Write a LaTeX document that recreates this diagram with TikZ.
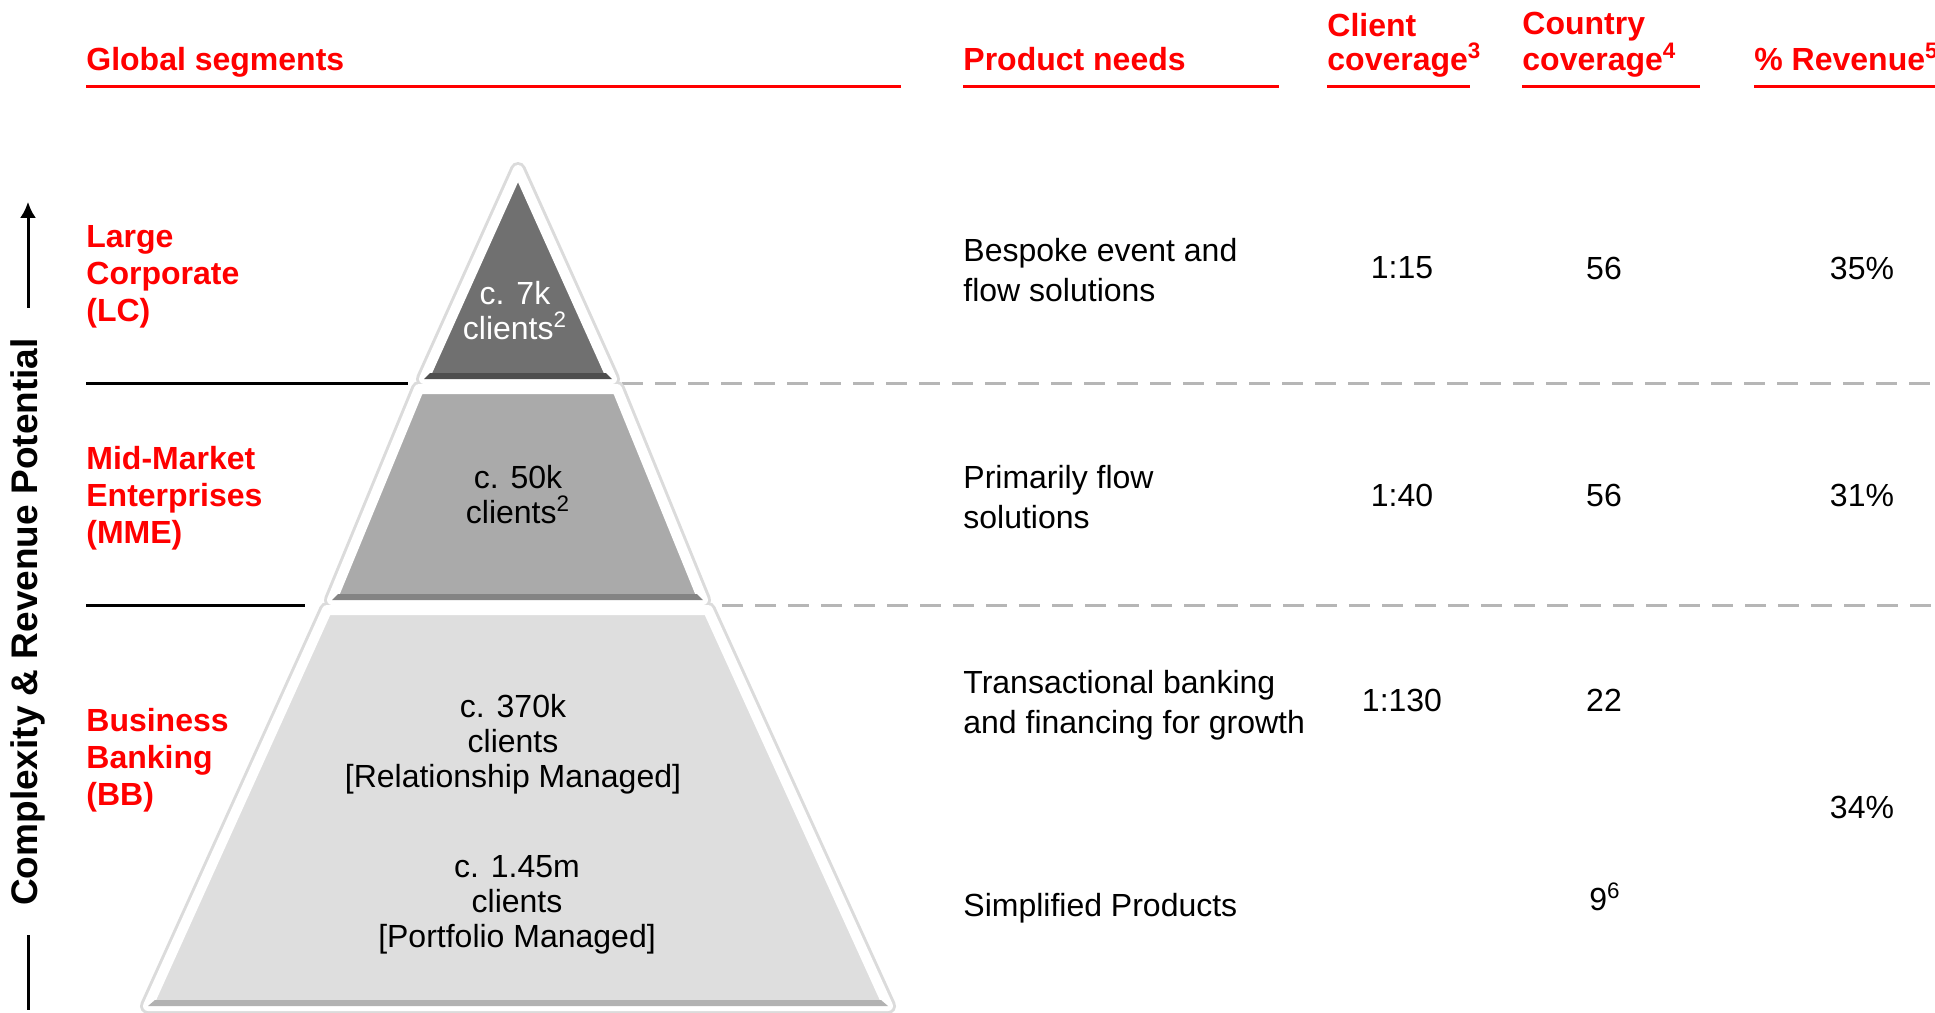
\documentclass[tikz,border=0pt]{standalone}
\usepackage{fontspec}
\setmainfont{Liberation Sans}
\usetikzlibrary{arrows.meta}
\definecolor{tierA}{RGB}{112,112,112}
\definecolor{tierAdark}{RGB}{78,78,78}
\definecolor{tierB}{RGB}{170,170,170}
\definecolor{tierBdark}{RGB}{132,132,132}
\definecolor{tierC}{RGB}{222,222,222}
\definecolor{tierCdark}{RGB}{178,178,178}
\definecolor{dashgray}{RGB}{182,182,182}
\tikzset{
  hdr/.style={text=red, font=\bfseries\fontsize{16}{17.25}\selectfont, inner sep=0pt, align=left, anchor=south west},
  hline/.style={red, line width=1.5pt},
  seg/.style={text=red, font=\bfseries\fontsize{16}{18.5}\selectfont, inner sep=0pt, align=left, anchor=west},
  need/.style={font=\fontsize{16}{20}\selectfont, inner sep=0pt, align=left, anchor=west},
  cell/.style={font=\fontsize{16}{18}\selectfont, inner sep=0pt},
  tiertext/.style={font=\fontsize{16}{17.5}\selectfont, inner sep=0pt, align=center},
  tier/.style={draw=white, line width=5pt, line join=round},
  tiershadow/.style={draw=black!14, line width=8pt, line join=round},
  rule/.style={black, line width=1.5pt},
  dashrule/.style={dashgray, line width=1.5pt, dash pattern=on 10.5pt off 6pt},
  axis/.style={black, line width=1.5pt}
}
\begin{document}
\begin{tikzpicture}[x=0.5pt,y=-0.5pt]
\useasboundingbox (0,0) rectangle (1935,1013);

% column heads
\node[hdr] (hglobal) at (86,78) {Global segments};
\node[hdr] (hneeds) at (963,78) {Product needs\vphantom{g}};
\node[hdr] (hclient) at (1327,78) {Client\\coverage\textsuperscript{3}};
\node[hdr] (hcountry) at (1522,78) {Country\\coverage\textsuperscript{4}};
\node[hdr] (hrevenue) at (1754,78) {\% Revenue\textsuperscript{5}\vphantom{g}};
\draw[hline] (86,86) -- (901,86);
\draw[hline] (963,86) -- (1279,86);
\draw[hline] (1327,86) -- (1470,86);
\draw[hline] (1522,86) -- (1700,86);
\draw[hline] (1754,86) -- (1935,86);

% row rules
\draw[rule] (86,383) -- (408,383);
\draw[dashrule] (622,383) -- (1935,383);
\draw[rule] (86,605) -- (305,605);
\draw[dashrule] (722,605) -- (1935,605);

% pyramid
\draw[tiershadow] (518,170) -- (612,379) -- (424,379) -- cycle;
\draw[tiershadow] (419,389) -- (617,389) -- (703,600) -- (332,600) -- cycle;
\draw[tiershadow] (327,610) -- (708,610) -- (888,1006) -- (148,1006) -- cycle;
\filldraw[tier, fill=tierA] (518,170) -- (612,379) -- (424,379) -- cycle;
\filldraw[tier, fill=tierB] (419,389) -- (617,389) -- (703,600) -- (332,600) -- cycle;
\filldraw[tier, fill=tierC] (327,610) -- (708,610) -- (888,1006) -- (148,1006) -- cycle;
\fill[tierAdark] (424,379) -- (612,379) -- (606,373) -- (430,373) -- cycle;
\fill[tierBdark] (332,600) -- (703,600) -- (697,594) -- (338,594) -- cycle;
\fill[tierCdark] (148,1006) -- (888,1006) -- (881,1000) -- (155,1000) -- cycle;

\node[tiertext, text=white] (lcclients) at (515,311) {c. 7k\\clients\textsuperscript{2}};
\node[tiertext] (mmeclients) at (518,495) {c. 50k\\clients\textsuperscript{2}};
\node[tiertext] (rmclients) at (513,744) {c. 370k\\clients\\{}[Relationship Managed]};
\node[tiertext] (pmclients) at (517,905) {c. 1.45m\\clients\\{}[Portfolio Managed]};

% segments
\node[seg] (lc) at (86,277) {Large\\Corporate\\(LC)};
\node[seg] (mme) at (86,498) {Mid-Market\\Enterprises\\(MME)};
\node[seg] (bb) at (86,760) {Business\\Banking\\(BB)};

% product needs
\node[need] (needlc) at (963,270) {Bespoke event and\\flow solutions};
\node[need] (needmme) at (963,497) {Primarily flow\\solutions};
\node[need] (needrm) at (963,705) {Transactional banking\\and financing for growth};
\node[need] (needpm) at (963,908) {Simplified Products};

% coverage and revenue
\node[cell] (clientlc) at (1402,268) {1:15};
\node[cell] (clientmme) at (1402,495) {1:40};
\node[cell] (clientbb) at (1402,700) {1:130};
\node[cell] (countrylc) at (1604,268) {56};
\node[cell] (countrymme) at (1604,495) {56};
\node[cell] (countryrm) at (1604,700) {22};
\node[cell] (countrypm) at (1605,897) {9\textsuperscript{6}};
\node[cell] (revlc) at (1862,268) {35\%};
\node[cell] (revmme) at (1862,495) {31\%};
\node[cell] (revbb) at (1862,807) {34\%};

% axis
\node[font=\bfseries\fontsize{18.5}{20}\selectfont, inner sep=0pt, rotate=90] (axislabel) at (28,622) {Complexity \& Revenue Potential};
\draw[axis, -{Latex[length=8pt,width=8pt]}] (axislabel.east) ++(0,-30) -- ++(0,-106);
\draw[axis] (axislabel.west) ++(0,29) -- ++(0,75);
\end{tikzpicture}
\end{document}
